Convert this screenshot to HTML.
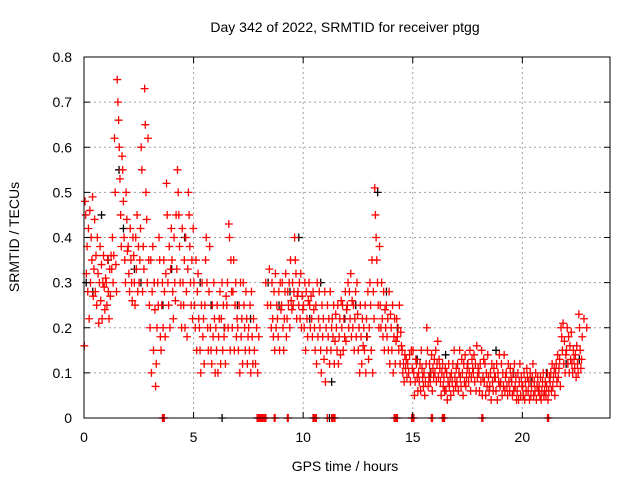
<!DOCTYPE html>
<html><head><meta charset="utf-8"><style>
html,body{margin:0;padding:0;background:#fff;}
svg{display:block;font-family:"Liberation Sans",sans-serif;}
</style></head><body>
<svg id="chart" width="640" height="480" viewBox="0 0 640 480" xmlns="http://www.w3.org/2000/svg">
<rect width="640" height="480" fill="#fff"/>
<text x="345" y="32" font-size="14" text-anchor="middle">Day 342 of 2022, SRMTID for receiver ptgg</text>
<text x="19" y="237" font-size="14" text-anchor="middle" transform="rotate(-90 19 237)">SRMTID / TECUs</text>
<text x="345" y="471" font-size="14" text-anchor="middle">GPS time / hours</text>
<g id="grid"></g>
<g id="marks"></g>
<g id="axes"></g>
</svg>
<script>
const xTicks=[0,5,10,15,20];
const yTicks=[0,0.1,0.2,0.3,0.4,0.5,0.6,0.7,0.8];
const yTickLabels=["0","0.1","0.2","0.3","0.4","0.5","0.6","0.7","0.8"];
const binWidth=0.25;
const redBins=[
[0.16,0.48,0.45,0.32,0.38,0.28,0.42,0.22],[0.46,0.3,0.4,0.35,0.49,0.27,0.33,0.44],[0.28,0.36,0.25,0.4,0.32,0.21,0.3,0.38],[0.26,0.34,0.22,0.3,0.36,0.29,0.24,0.31],
[0.3,0.25,0.35,0.28,0.22,0.33,0.27,0.36],[0.33,0.4,0.3,0.36,0.62,0.5,0.34,0.28],[0.75,0.7,0.66,0.6,0.53,0.45,0.38,0.58],[0.55,0.48,0.4,0.35,0.3,0.5,0.44,0.37],
[0.38,0.32,0.28,0.42,0.35,0.3,0.26,0.4],[0.36,0.3,0.25,0.4,0.33,0.45,0.28,0.38],[0.3,0.35,0.42,0.6,0.55,0.28,0.38,0.33],[0.73,0.65,0.5,0.44,0.3,0.62,0.35,0.25],
[0.2,0.35,0.1,0.28,0.38,0.15,0.3,0.24],[0.07,0.12,0.2,0.3,0.25,0.4,0.35,0.18],[0.15,0.25,0.3,0.2,0.35,0.28,0.18,0.32],[0.52,0.45,0.3,0.25,0.38,0.2,0.33,0.42],
[0.35,0.28,0.22,0.4,0.3,0.26,0.45,0.33],[0.55,0.5,0.45,0.38,0.3,0.25,0.2,0.42],[0.3,0.25,0.35,0.2,0.4,0.28,0.18,0.33],[0.5,0.45,0.38,0.3,0.25,0.35,0.22,0.42],
[0.3,0.25,0.2,0.35,0.15,0.28,0.32,0.22],[0.2,0.15,0.1,0.25,0.3,0.18,0.22,0.12],[0.25,0.35,0.4,0.3,0.2,0.15,0.28,0.38],[0.2,0.15,0.12,0.25,0.18,0.3,0.22,0.1],
[0.2,0.15,0.25,0.1,0.18,0.22,0.28,0.12],[0.22,0.3,0.15,0.25,0.18,0.2,0.12,0.27],[0.25,0.3,0.2,0.43,0.4,0.15,0.35,0.28],[0.2,0.28,0.35,0.15,0.25,0.3,0.18,0.22],
[0.2,0.15,0.25,0.1,0.3,0.18,0.22,0.12],[0.3,0.25,0.2,0.15,0.28,0.22,0.12,0.18],[0.2,0.15,0.25,0.1,0.28,0.18,0.12,0.22],[0.15,0.12,0.2,0.1,0.18],
[],[0.3,0.25,0.33],[0.25,0.2,0.3,0.22,0.18,0.28,0.15,0.32],[0.2,0.25,0.22,0.18,0.28,0.15,0.3,0.24],
[0.25,0.3,0.2,0.15,0.22,0.28,0.32,0.18],[0.22,0.28,0.25,0.3,0.2,0.35,0.26,0.24],[0.3,0.25,0.28,0.4,0.35,0.32,0.22,0.27],[0.28,0.25,0.3,0.22,0.32,0.2,0.27,0.24],
[0.25,0.2,0.3,0.15,0.28,0.22,0.18,0.26],[0.3,0.25,0.2,0.27,0.22,0.18,0.28,0.24],[0.2,0.15,0.25,0.12,0.3,0.18,0.22,0.28],[0.2,0.15,0.1,0.25,0.18,0.22,0.13,0.28],
[0.08,0.2,0.15,0.25,0.18,0.22,0.12,0.28],[0.15,0.2,0.22,0.18,0.25,0.12,0.17,0.23],[0.2,0.15,0.25,0.12,0.18,0.22,0.14,0.26],[0.2,0.25,0.15,0.22,0.18,0.28,0.17,0.24],
[0.25,0.3,0.2,0.28,0.22,0.32,0.18,0.26],[0.2,0.25,0.15,0.22,0.28,0.18,0.3,0.23],[0.15,0.2,0.1,0.25,0.18,0.12,0.22,0.16],[0.2,0.15,0.25,0.1,0.22,0.18,0.28,0.13],
[0.2,0.3,0.25,0.15,0.35,0.1,0.28,0.22],[0.51,0.45,0.4,0.35,0.3,0.25,0.2,0.38],[0.25,0.2,0.3,0.22,0.18,0.28,0.15,0.24],[0.2,0.25,0.18,0.22,0.15,0.28,0.12,0.23],
[0.2,0.15,0.25,0.1,0.18,0.22,0.12,0.17],[0.22,0.18,0.2,0.15,0.25,0.12,0.19,0.16],[0.15,0.1,0.12,0.08,0.14,0.11,0.13,0.09],[0.12,0.1,0.14,0.08,0.15,0.11],
[0.15,0.1,0.05,0.08,0.13,0.12,0.09,0.06],[0.1,0.08,0.12,0.06,0.15,0.11,0.09,0.07],[0.1,0.05,0.08,0.12,0.2,0.15,0.07,0.09],[0.12,0.08,0.1,0.14,0.06,0.11,0.09,0.13],
[0.1,0.15,0.08,0.12,0.17,0.09,0.13,0.11],[0.08,0.05,0.1,0.12,0.07,0.09,0.06,0.11],[0.06,0.1,0.04,0.08,0.12,0.07,0.09,0.05],[0.1,0.08,0.12,0.06,0.15,0.09,0.07,0.11],
[0.08,0.12,0.06,0.1,0.15,0.09,0.07,0.13],[0.1,0.05,0.12,0.08,0.14,0.07,0.09,0.11],[0.12,0.08,0.1,0.15,0.06,0.09,0.13,0.11],[0.1,0.14,0.08,0.12,0.06,0.16,0.09,0.11],
[0.1,0.06,0.12,0.08,0.15,0.05,0.09,0.13],[0.08,0.12,0.05,0.1,0.07,0.14,0.09,0.06],[0.07,0.1,0.04,0.12,0.08,0.06,0.11,0.09],[0.09,0.06,0.12,0.04,0.1,0.08,0.14,0.07],
[0.08,0.12,0.05,0.1,0.07,0.14,0.06,0.09],[0.1,0.07,0.05,0.12,0.08,0.06,0.11,0.09],[0.08,0.05,0.1,0.06,0.12,0.07,0.09,0.04],[0.06,0.1,0.04,0.08,0.12,0.05,0.09,0.07],
[0.07,0.05,0.1,0.04,0.08,0.06,0.11,0.09],[0.06,0.08,0.04,0.1,0.05,0.07,0.09,0.12],[0.05,0.08,0.06,0.1,0.04,0.07,0.09,0.06],[0.07,0.05,0.09,0.04,0.06,0.08,0.1,0.05],
[0.06,0.08,0.05,0.07,0.1,0.04,0.06,0.09],[0.08,0.1,0.06,0.12,0.07,0.09,0.11,0.05],[0.1,0.12,0.08,0.14,0.09,0.11,0.13,0.07],[0.2,0.18,0.15,0.21,0.12,0.17,0.1,0.14],
[0.15,0.2,0.12,0.18,0.1,0.16,0.13,0.19],[0.12,0.1,0.15,0.13,0.11,0.14,0.09,0.16],[0.12,0.1,0.23,0.2,0.15,0.11,0.13,0.18],[0.22,0.2]
];
const redZeroTimes=[3.58,3.62,3.66,7.9,7.95,8.0,8.05,8.1,8.15,8.2,8.25,8.3,8.68,8.72,9.28,9.32,10.45,10.5,10.55,10.6,11.1,11.3,11.35,11.4,11.45,14.15,14.2,14.25,14.3,14.95,15.0,15.05,15.85,15.9,16.35,16.4,16.45,18.15,18.2,21.15,21.2];
const blackTimes=[0.1,0.4,0.8,1.1,1.6,1.8,2.3,2.6,3.2,3.6,4.0,4.6,5.3,5.8,6.4,7.0,7.6,8.4,8.9,9.4,9.8,10.3,10.8,11.3,11.9,12.4,12.9,13.4,13.8,14.3,15.2,15.8,16.5,17.5,18.8,19.6,20.4,21.1,22.0,22.6,6.3,11.2];
const blackValues=[0.3,0.28,0.45,0.35,0.55,0.42,0.33,0.3,0.3,0.25,0.33,0.4,0.3,0.25,0.2,0.25,0.22,0.3,0.25,0.28,0.4,0.22,0.3,0.08,0.22,0.25,0.18,0.5,0.28,0.2,0.13,0.1,0.14,0.12,0.15,0.1,0.08,0.1,0.12,0.13,0,0];

const L=84,R=610,T=57,B=418,XMAX=24,YMAX=0.8;
const xs=v=>L+(v/XMAX)*(R-L);
const ys=v=>B-(v/YMAX)*(B-T);
const NS="http://www.w3.org/2000/svg";
const grid=document.getElementById('grid'),marks=document.getElementById('marks'),axes=document.getElementById('axes');
function mk(tag,attrs,parent){const e=document.createElementNS(NS,tag);for(const k in attrs)e.setAttribute(k,attrs[k]);parent.appendChild(e);return e;}
xTicks.forEach(t=>{
  if(t>0){const g=mk('line',{x1:xs(t),x2:xs(t),y1:T,y2:B,stroke:'#a0a0a0','stroke-dasharray':'2,3'},grid);
  
  }
  const a=mk('line',{x1:xs(t),x2:xs(t),y1:B,y2:B-6,stroke:'#000'},axes);
  
  
  const b=mk('line',{x1:xs(t),x2:xs(t),y1:T,y2:T+6,stroke:'#000'},axes);
  
  
  const tx=mk('text',{x:xs(t),y:B+24,'font-size':14,'text-anchor':'middle'},axes);
  tx.textContent=String(t);
  
  
});
yTicks.forEach((t,i)=>{
  if(t>0&&t<YMAX){const g=mk('line',{x1:L,x2:R,y1:ys(t),y2:ys(t),stroke:'#a0a0a0','stroke-dasharray':'2,3'},grid);
  
  }
  const a=mk('line',{x1:L,x2:L+6,y1:ys(t),y2:ys(t),stroke:'#000'},axes);
  
  
  const b=mk('line',{x1:R,x2:R-6,y1:ys(t),y2:ys(t),stroke:'#000'},axes);
  
  
  const tx=mk('text',{x:L-12,y:ys(t)+5,'font-size':14,'text-anchor':'end'},axes);
  tx.textContent=yTickLabels[i];
  
  
});
function cross(t,v,color,name){
  const x=xs(t),y=ys(v);
  const p=mk('path',{d:`M${x-4},${y}h8M${x},${y-4}v8`,stroke:color,'stroke-width':1.3,fill:'none'},marks);
  
  
}
blackTimes.forEach((t,i)=>cross(t,blackValues[i],'#000','black-point'));
redBins.forEach((bin,i)=>{bin.forEach((v,j)=>cross(i*binWidth+(j+0.5)*binWidth/bin.length,v,'#f00','red-point'));});
redZeroTimes.forEach(t=>cross(t,0,'#f00','red-zero-point'));
const frame=mk('rect',{x:L,y:T,width:R-L,height:B-T,fill:'none',stroke:'#000'},axes);


</script>
</body></html>
